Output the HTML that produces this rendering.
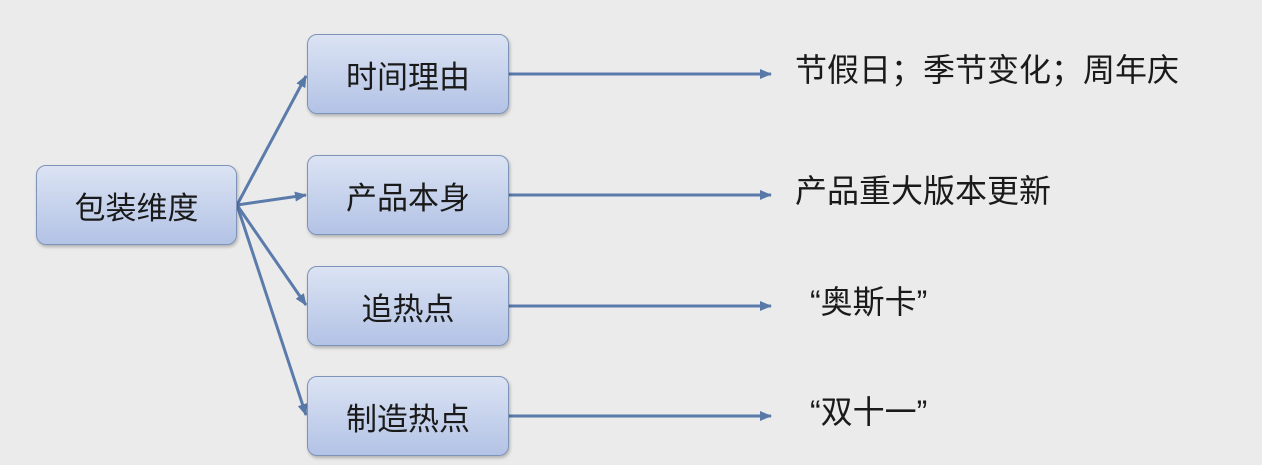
<!DOCTYPE html>
<html><head><meta charset="utf-8"><style>
html,body{margin:0;padding:0}
body{width:1262px;height:465px;background:#ebebeb;position:relative;overflow:hidden;font-family:"Liberation Sans","Noto Sans CJK SC",sans-serif;color:#1a1a1a}
.b{position:absolute;box-sizing:border-box;border:1.5px solid #7e93b8;border-radius:10px;background:linear-gradient(#dbe3f3,#b3c3e6);box-shadow:1px 2px 3px rgba(0,0,0,.25);display:flex;align-items:center;justify-content:center;font-size:31px}
.t{position:absolute;font-size:32px;left:795px;white-space:nowrap;line-height:1}
</style></head><body>
<svg width="1262" height="465" style="position:absolute;left:0;top:0">
<defs><marker id="a" markerWidth="12" markerHeight="10" refX="11" refY="5" orient="auto" markerUnits="userSpaceOnUse"><path d="M0,0 L12,5 L0,10 z" fill="#5878a8"/></marker></defs>
<g stroke="#5b7bab" stroke-width="3" fill="none">
<line x1="237" y1="205" x2="306" y2="76" marker-end="url(#a)"/>
<line x1="237" y1="205" x2="306" y2="195" marker-end="url(#a)"/>
<line x1="237" y1="205" x2="306" y2="305" marker-end="url(#a)"/>
<line x1="237" y1="205" x2="306" y2="415" marker-end="url(#a)"/>
<line x1="509" y1="74" x2="771" y2="74" marker-end="url(#a)"/>
<line x1="509" y1="195" x2="771" y2="195" marker-end="url(#a)"/>
<line x1="509" y1="306" x2="771" y2="306" marker-end="url(#a)"/>
<line x1="509" y1="416" x2="771" y2="416" marker-end="url(#a)"/>
</g></svg>
<div class="b" style="left:36px;top:165px;width:201px;height:80px">包装维度</div>
<div class="b" style="left:307px;top:34px;width:202px;height:80px">时间理由</div>
<div class="b" style="left:307px;top:155px;width:202px;height:80px">产品本身</div>
<div class="b" style="left:307px;top:266px;width:202px;height:80px">追热点</div>
<div class="b" style="left:307px;top:376px;width:202px;height:80px">制造热点</div>
<div class="t" style="top:54px">节假日；季节变化；周年庆</div>
<div class="t" style="top:175px">产品重大版本更新</div>
<div class="t" style="top:286px;left:810px">“奥斯卡”</div>
<div class="t" style="top:396px;left:810px">“双十一”</div>
</body></html>
